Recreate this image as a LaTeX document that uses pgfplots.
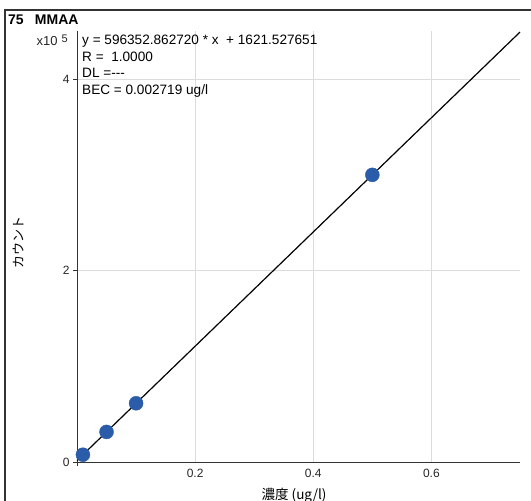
\documentclass[border=0pt]{standalone}
\usepackage{pgfplots}
\pgfplotsset{compat=1.18}
\usepackage{fontspec}
\setmainfont{Liberation Sans}
\newfontfamily\cjk{Noto Sans CJK JP}
\definecolor{ptblue}{HTML}{2A5CAA}
\definecolor{gridgray}{HTML}{DCDCDC}
\begin{document}
\begin{tikzpicture}[x=1bp,y=1bp]
\useasboundingbox (0,0) rectangle (531,501);
\draw[line width=1.3bp,black!80] (5,0) -- (5,491) -- (531,491);
\node[anchor=base west,font=\fontsize{14bp}{16bp}\selectfont\bfseries,inner sep=0pt] at (8,476) {75\hspace{0.8em}MMAA};
\begin{axis}[
  at={(77bp,39bp)}, anchor=origin,
  scale only axis, width=443bp, height=431bp,
  xmin=0, xmax=0.75, ymin=0, ymax=450000,
  axis lines=left, axis line style={-, black!80, line width=0.8bp},
  xtick={0.2,0.4,0.6}, ytick={0,200000,400000},
  yticklabels={0,2,4},
  xticklabels={0.2,0.4,0.6},
  scaled y ticks=false,
  /pgf/number format/assume math mode=true,
  ticklabel style={font=\fontsize{12bp}{14bp}\selectfont, text=black!85},
  xtick style={draw=none},
  ytick style={black!80, line width=0.6bp},
  tick align=outside, major tick length=4bp,
  ymajorgrids, xmajorgrids,
  grid style={gridgray, line width=0.6bp},
  xlabel={\cjk 濃度 (ug/l)},
  ylabel={\cjk カウント},
  xlabel style={font=\fontsize{13.5bp}{15bp}\selectfont, at={(axis description cs:0.49,0)}, anchor=north, yshift=-23bp},
  ylabel style={font=\fontsize{13bp}{15bp}\selectfont, at={(axis description cs:-0.133,0.51)}, anchor=center},
  clip=false,
]
\addplot[only marks, mark=*, mark size=7bp, mark options={draw=ptblue, fill=ptblue}]
  coordinates {(0.01,7600) (0.05,31400) (0.1,61300) (0.5,299800)};
\addplot[black, line width=1.2bp]
  coordinates {(0,1621.5) (0.75,448886)};
\end{axis}
\draw[black!80, line width=0.6bp] (77,39) -- (77,35);
\node[anchor=base east,font=\fontsize{13bp}{15bp}\selectfont,text=black!85,inner sep=0pt] at (68,455) {x10\hspace{4bp}\raisebox{0.5ex}{\fontsize{11bp}{12bp}\selectfont 5}};
\begin{scope}[every node/.style={anchor=base west,font=\fontsize{13.6bp}{15bp}\selectfont,inner sep=0pt}]
\node at (82,456) {y = 596352.862720 * x\ \ + 1621.527651};
\node at (82,439.5) {R =\ \ 1.0000};
\node at (82,423) {DL ={-}{-}{-}};
\node at (82,406.5) {BEC = 0.002719 ug/l};
\end{scope}
\end{tikzpicture}
\end{document}
